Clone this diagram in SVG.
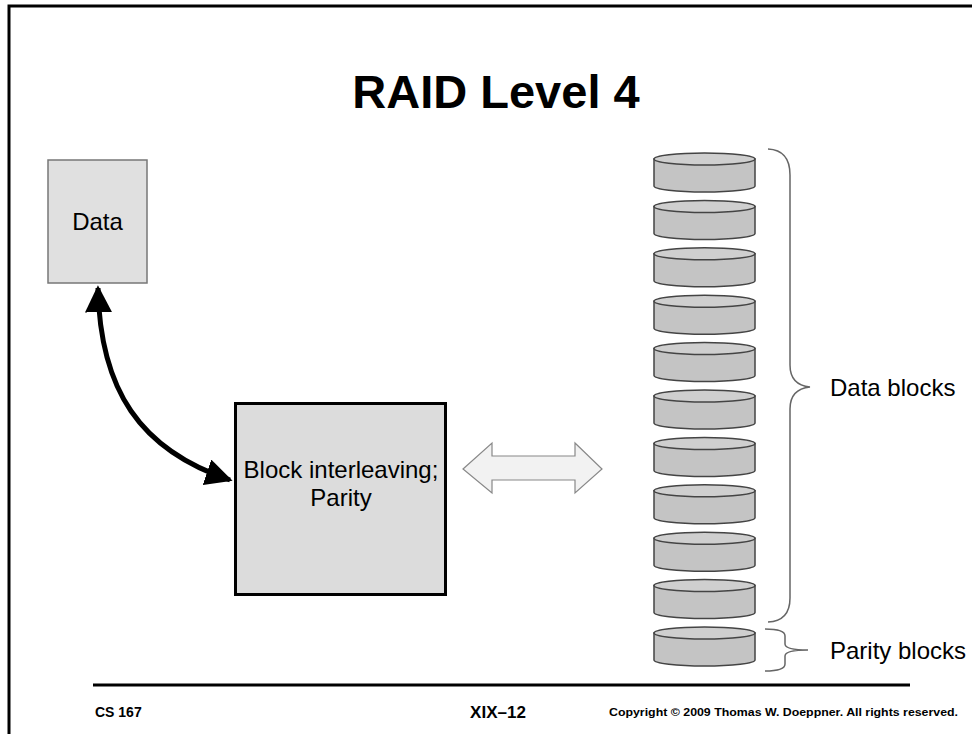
<svg xmlns="http://www.w3.org/2000/svg" width="972" height="734" viewBox="0 0 972 734">
  <style>
    text { font-family: "Liberation Sans", Arial, sans-serif; fill: #000; }
    .lbl { font-size: 24px; }
    .disk-side { fill: #c4c4c4; stroke: #444; stroke-width: 1.5; }
    .disk-top { fill: #cfcfcf; stroke: #444; stroke-width: 1.5; }
    .brace { fill: none; stroke: #666; stroke-width: 1.5; }
    .foot { font-weight: bold; }
  </style>
  <defs>
    <marker id="head" viewBox="0 0 10 10" refX="9" refY="5" markerWidth="5.4" markerHeight="5.4" orient="auto-start-reverse" markerUnits="strokeWidth">
      <path d="M0,0 L10,5 L0,10 z" fill="#000"/>
    </marker>
    <!-- one disk: top ellipse plus side wall -->
    <g id="disk">
      <path class="disk-side" d="M0,6 L0,33 A50.5,6 0 0 0 101,33 L101,6 Z"/>
      <ellipse class="disk-top" cx="50.5" cy="6" rx="50.5" ry="6"/>
    </g>
  </defs>

  <rect width="972" height="734" fill="#fff"/>
  <!-- slide frame (left and top edges) -->
  <path d="M9,734 L9,6 L972,6" fill="none" stroke="#000" stroke-width="3"/>

  <text x="496" y="108" font-size="47" font-weight="bold" text-anchor="middle">RAID Level 4</text>

  <g id="data">
    <rect x="48" y="160" width="99" height="123" fill="#e0e0e0" stroke="#777" stroke-width="1.5"/>
    <text class="lbl" x="97.5" y="230" text-anchor="middle">Data</text>
  </g>

  <g id="interleave">
    <rect x="235.5" y="403.5" width="210" height="191" fill="#dcdcdc" stroke="#000" stroke-width="3"/>
    <text class="lbl" x="341" y="478" text-anchor="middle">Block interleaving;</text>
    <text class="lbl" x="341" y="506" text-anchor="middle">Parity</text>
  </g>

  <g id="disks">
    <use href="#disk" x="654" y="153"/>
    <use href="#disk" x="654" y="200.4"/>
    <use href="#disk" x="654" y="247.8"/>
    <use href="#disk" x="654" y="295.2"/>
    <use href="#disk" x="654" y="342.6"/>
    <use href="#disk" x="654" y="390"/>
    <use href="#disk" x="654" y="437.4"/>
    <use href="#disk" x="654" y="484.8"/>
    <use href="#disk" x="654" y="532.2"/>
    <use href="#disk" x="654" y="579.6"/>
    <use href="#disk" x="654" y="627"/>
  </g>

  <g id="data-blocks">
    <path class="brace" d="M768,149 Q790,150 790,175 L790,365 Q790,385 810,387 Q790,389 790,409 L790,598 Q790,621 768,622"/>
    <text class="lbl" x="830" y="396">Data blocks</text>
  </g>

  <g id="parity-blocks">
    <path class="brace" d="M765,629 Q785,629 785,636 L785,644 Q785,650 808,650 Q785,650 785,656 L785,664 Q785,671 765,671"/>
    <text class="lbl" x="830" y="659">Parity blocks</text>
  </g>

  <g id="connectors">
    <path d="M98,288 C100,390 140,450 230,480" fill="none" stroke="#000" stroke-width="5" marker-start="url(#head)" marker-end="url(#head)"/>
    <path d="M463,469 L492,443 L492,456 L575,456 L575,443 L602,469 L575,493 L575,480 L492,480 L492,493 Z" fill="#f2f2f2" stroke="#888" stroke-width="1.2"/>
  </g>

  <!-- footer -->
  <line x1="93" y1="685" x2="910" y2="685" stroke="#000" stroke-width="3"/>
  <text class="foot" x="95" y="717" font-size="14">CS 167</text>
  <text class="foot" x="498" y="718" font-size="17" text-anchor="middle">XIX–12</text>
  <text class="foot" x="609" y="716" font-size="11" textLength="349" lengthAdjust="spacingAndGlyphs">Copyright © 2009 Thomas W. Doeppner. All rights reserved.</text>
</svg>
